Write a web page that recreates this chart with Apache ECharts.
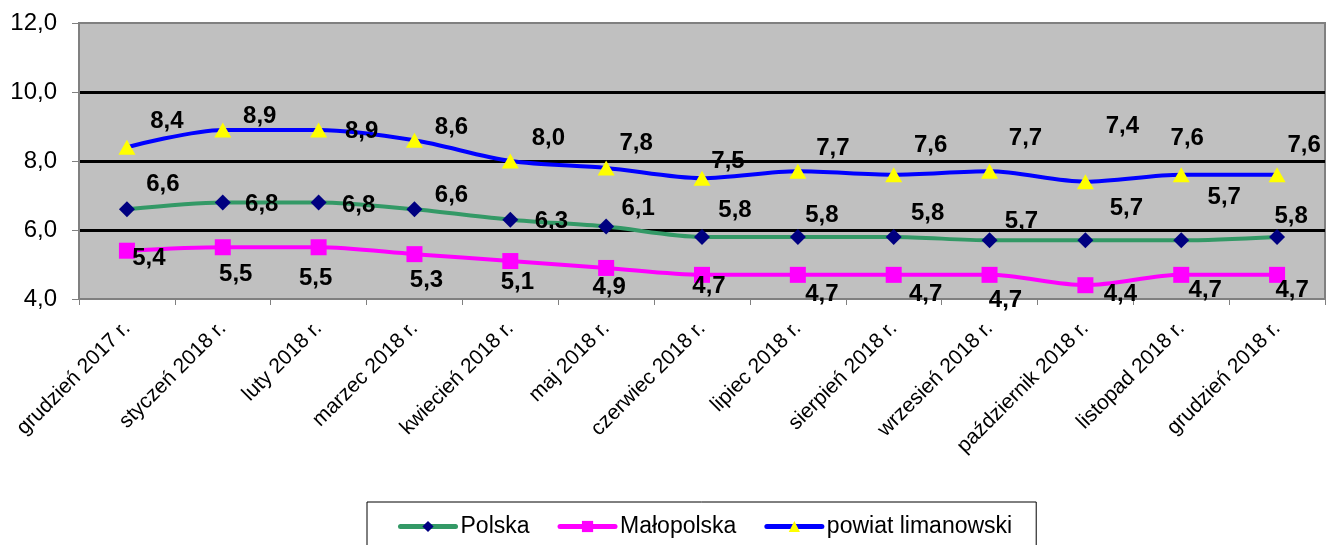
<!DOCTYPE html>
<html>
<head>
<meta charset="utf-8">
<script src="https://cdn.jsdelivr.net/npm/echarts@6/dist/echarts.min.js"></script>
<style>
html,body{margin:0;padding:0;background:#fff;}
#c{width:1326px;height:545px;}
</style>
</head>
<body>
<div id="c"></div>
<script>
const categories = ['grudzień 2017 r.', 'styczeń 2018 r.', 'luty 2018 r.', 'marzec 2018 r.', 'kwiecień 2018 r.', 'maj 2018 r.', 'czerwiec 2018 r.', 'lipiec 2018 r.', 'sierpień 2018 r.', 'wrzesień 2018 r.', 'październik 2018 r.', 'listopad 2018 r.', 'grudzień 2018 r.'];
const polska = [6.6, 6.8, 6.8, 6.6, 6.3, 6.1, 5.8, 5.8, 5.8, 5.7, 5.7, 5.7, 5.8];
const malopolska = [5.4, 5.5, 5.5, 5.3, 5.1, 4.9, 4.7, 4.7, 4.7, 4.7, 4.4, 4.7, 4.7];
const powiat = [8.4, 8.9, 8.9, 8.6, 8.0, 7.8, 7.5, 7.7, 7.6, 7.7, 7.4, 7.6, 7.6];
const yTicks = {min: 4, max: 12, interval: 2};

// label placement (style: offset of each value label from its marker)
const polskaLabelShift = [[36,-25],[39,2],[40,3],[37,-14],[41,2],[32,-18],[33,-27],[24,-22],[34,-24],[32,-19],[41,-32],[43,-43],[14,-21]];
const malopolskaLabelShift = [[22,8],[13,27],[-3,31],[12,26],[7,21],[3,19],[7,12],[24,20],[32,20],[16,26],[35,9],[24,16],[15,16]];
const powiatLabelShift = [[40,-26],[37,-14],[43,1],[37,-13],[38,-23],[30,-25],[26,-17],[35,-23],[37,-29],[36,-33],[37,-55],[6,-36],[27,-29]];

const FONT = "'Liberation Sans', Arial, sans-serif";
const fmt = v => Number(v).toFixed(1).replace('.', ',');

function mkData(vals, shifts) {
  return vals.map((v, i) => ({value: v, label: {offset: shifts[i]}}));
}
const labelBase = {
  show: true, position: 'inside', formatter: p => fmt(p.value),
  fontFamily: FONT, fontWeight: 'bold', fontSize: 24, color: '#000'
};

const chart = echarts.init(document.getElementById('c'), null, {renderer: 'canvas'});
chart.setOption({
  backgroundColor: '#fff',
  animation: false,
  grid: {
    left: 79, right: 1, top: 23, bottom: 246,
    show: true, backgroundColor: '#C0C0C0', borderColor: '#808080', borderWidth: 2,
    containLabel: false, outerBoundsMode: 'none'
  },
  legend: {
    left: 367, top: 502,
    padding: [13, 24, 40, 31],
    itemWidth: 55, itemHeight: 14, itemGap: 28,
    borderColor: '#000', borderWidth: 1,
    lineStyle: {width: 5, cap: 'round'},
    textStyle: {fontFamily: FONT, fontSize: 23, color: '#000'},
    data: ['Polska', 'Małopolska', 'powiat limanowski']
  },
  xAxis: {
    type: 'category', data: categories, boundaryGap: true,
    axisLine: {show: true, lineStyle: {color: '#808080', width: 2}},
    axisTick: {show: true, length: 6, lineStyle: {color: '#808080', width: 1}},
    axisLabel: {rotate: 45, margin: 26, fontFamily: FONT, fontSize: 21, color: '#000', interval: 0},
    splitLine: {show: false}
  },
  yAxis: {
    type: 'value', min: yTicks.min, max: yTicks.max, interval: yTicks.interval,
    axisLine: {show: true, lineStyle: {color: '#808080', width: 2}},
    axisTick: {show: true, length: 7, lineStyle: {color: '#808080', width: 1}},
    axisLabel: {margin: 22, fontFamily: FONT, fontSize: 24, color: '#000', formatter: v => fmt(v)},
    splitLine: {show: true, showMinLine: false, showMaxLine: false, lineStyle: {color: '#000', width: 3}}
  },
  series: [
    {
      name: 'Polska', type: 'line', smooth: 0.3,
      data: mkData(polska, polskaLabelShift),
      symbol: 'diamond', symbolSize: 16,
      lineStyle: {color: '#339966', width: 4},
      itemStyle: {color: '#000080', borderWidth: 0},
      label: labelBase, z: 3
    },
    {
      name: 'Małopolska', type: 'line', smooth: 0.3,
      data: mkData(malopolska, malopolskaLabelShift),
      symbol: 'rect', symbolSize: 16,
      lineStyle: {color: '#FF00FF', width: 4},
      itemStyle: {color: '#FF00FF', borderWidth: 0},
      label: labelBase, z: 3
    },
    {
      name: 'powiat limanowski', type: 'line', smooth: 0.3,
      data: mkData(powiat, powiatLabelShift),
      symbol: 'triangle', symbolSize: [17, 15],
      lineStyle: {color: '#0000FF', width: 4},
      itemStyle: {color: '#FFFF00', borderWidth: 0},
      label: labelBase, z: 3
    }
  ]
});
</script>
</body>
</html>
